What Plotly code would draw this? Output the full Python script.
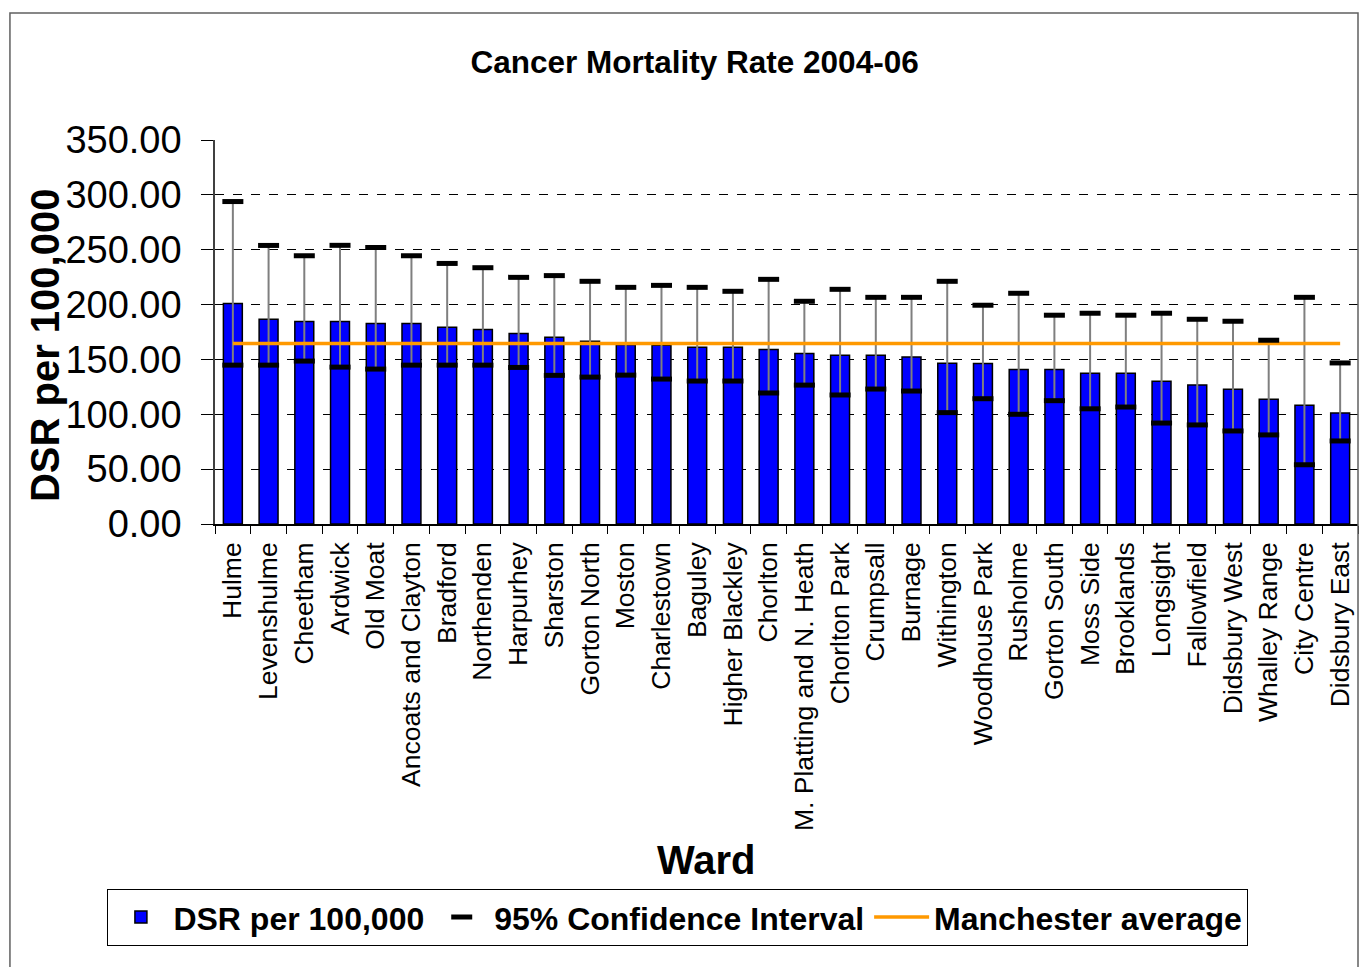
import plotly.graph_objects as go

# Cancer mortality DSR per 100,000 by ward, 2004-06
wards = ["Hulme", "Levenshulme", "Cheetham", "Ardwick", "Old Moat",
         "Ancoats and Clayton", "Bradford", "Northenden", "Harpurhey",
         "Sharston", "Gorton North", "Moston", "Charlestown", "Baguley",
         "Higher Blackley", "Chorlton", "M. Platting and N. Heath",
         "Chorlton Park", "Crumpsall", "Burnage", "Withington",
         "Woodhouse Park", "Rusholme", "Gorton South", "Moss Side",
         "Brooklands", "Longsight", "Fallowfield", "Didsbury West",
         "Whalley Range", "City Centre", "Didsbury East"]

dsr = [200.9, 186.6, 184.5, 184.5, 182.7, 182.7, 179.4, 177.3, 173.6,
       170.3, 166.6, 163.3, 163.0, 161.2, 161.0, 159.1, 155.5, 153.9,
       153.7, 152.2, 146.5, 146.4, 140.9, 140.8, 137.4, 137.3, 130.1,
       126.6, 122.8, 113.7, 108.3, 101.2]

ci_upper = [293.9, 253.9, 244.5, 254.0, 252.0, 244.5, 237.5, 233.6, 224.8,
            226.4, 221.2, 215.7, 217.5, 215.7, 212.1, 223.0, 203.0, 213.9,
            206.6, 206.6, 221.2, 199.4, 210.3, 190.3, 192.1, 190.3, 192.1,
            186.6, 184.8, 167.5, 206.6, 146.8]

ci_lower = [144.8, 144.8, 148.5, 143.0, 141.2, 144.8, 144.8, 144.8, 142.7,
            135.5, 133.9, 135.7, 132.1, 130.3, 130.3, 119.4, 126.6, 117.6,
            123.0, 121.2, 101.5, 114.2, 100.0, 112.4, 105.0, 106.6, 92.0,
            90.3, 84.8, 81.2, 54.0, 75.7]

manchester_avg = 164.5

FONT = "Liberation Sans, Arial, sans-serif"

err_plus = [u - v for u, v in zip(ci_upper, dsr)]
err_minus = [v - l for v, l in zip(dsr, ci_lower)]

fig = go.Figure()

fig.add_trace(go.Bar(
    x=wards, y=dsr,
    name="DSR per 100,000",
    marker=dict(color="#0000FF", line=dict(color="black", width=1.5)),
    error_y=dict(type="data", array=err_plus, arrayminus=err_minus,
                 color="#7f7f7f", thickness=2, width=0),
    legendrank=1,
))

fig.add_trace(go.Scatter(
    x=wards, y=[manchester_avg] * len(wards),
    mode="lines",
    name="Manchester average",
    line=dict(color="#FF9900", width=3.5),
    legendrank=3,
))

# CI caps drawn as short thick dashes
fig.add_trace(go.Scatter(
    x=wards + wards, y=ci_upper + ci_lower,
    mode="markers",
    name="95% Confidence Interval",
    marker=dict(symbol="line-ew", size=15, color="black",
                line=dict(color="black", width=5)),
    legendrank=2,
))

# outer chart frame
fig.add_shape(type="path", xref="paper", yref="paper",
              path="M -0.1794,-1.2 L -0.1794,1.3307 L 1.0,1.3307 L 1.0,-1.2",
              line=dict(color="#606060", width=1.5), layer="above")

fig.update_layout(
    width=1370, height=967,
    paper_bgcolor="white", plot_bgcolor="white",
    margin=dict(l=215, r=12, t=140, b=443),
    font=dict(family=FONT, color="black"),
    bargap=0.47,
    title=dict(text="Cancer Mortality Rate 2004-06",
               font=dict(size=31.5, weight="bold"),
               xref="container", x=0.507, xanchor="center",
               yref="container", y=1 - 62 / 967, yanchor="middle"),
    xaxis=dict(range=[-0.5, len(wards) - 0.5],
               showline=True, linecolor="black", linewidth=1.5,
               ticks="outside", tickson="boundaries", ticklen=8,
               tickcolor="black", tickangle=-90,
               ticklabelstandoff=6,
               tickfont=dict(size=26.5), showgrid=False),
    yaxis=dict(range=[0, 350], dtick=50, tickformat=".2f",
               showline=True, linecolor="#404040", linewidth=1.5,
               ticks="outside", ticklen=12, tickcolor="black",
               ticklabelstandoff=12,
               tickfont=dict(size=38),
               showgrid=True, gridcolor="black", griddash="dash",
               gridwidth=1, zeroline=False),
    showlegend=True,
    legend=dict(orientation="h", xref="paper", x=0.405, xanchor="center",
                yref="paper", y=-0.95, yanchor="top",
                bordercolor="black", borderwidth=1,
                itemwidth=55,
                font=dict(size=32, weight="bold"),
                traceorder="normal"),
    annotations=[
        dict(text="DSR per 100,000", textangle=-90, showarrow=False,
             xref="paper", yref="paper", x=-0.1487, y=0.466,
             xanchor="center", yanchor="middle",
             font=dict(size=40, weight="bold")),
        dict(text="Ward", showarrow=False,
             xref="paper", yref="paper", x=0.4304, y=-0.875,
             xanchor="center", yanchor="middle",
             font=dict(size=40, weight="bold")),
    ],
)

# drop the default page margin so the figure sits at the window's corner
fig.write_html("out.html", config={"displayModeBar": False},
               post_script="document.body.style.margin='0';")
